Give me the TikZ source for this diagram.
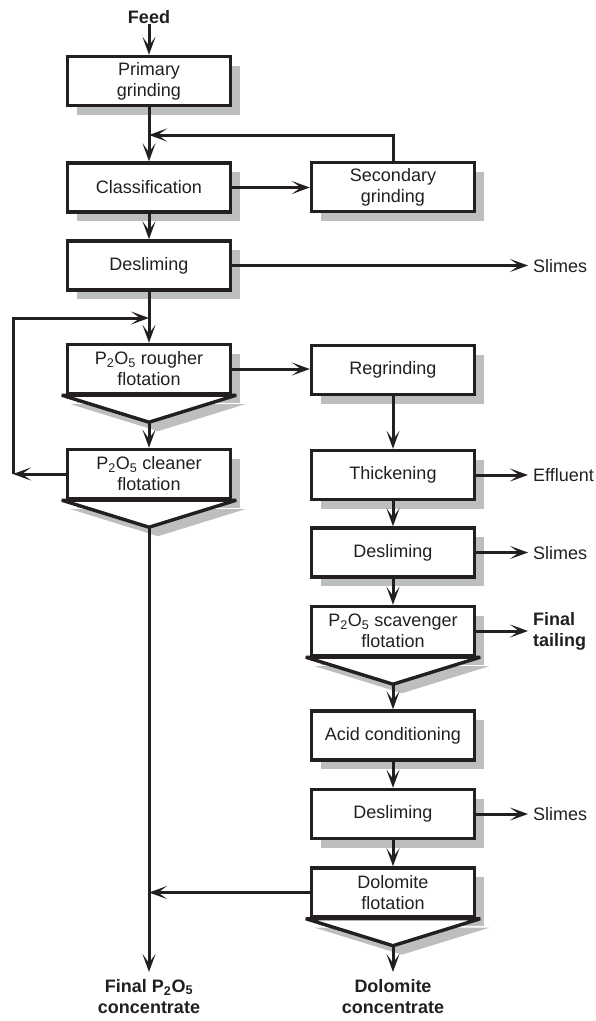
\documentclass[tikz,border=0pt]{standalone}
\usepackage{fontspec}
\setmainfont{Liberation Sans}
\usetikzlibrary{arrows.meta,calc,shadows}
\definecolor{ink}{HTML}{231F20}
\definecolor{shade}{HTML}{BCBEC0}
\begin{document}
\begin{tikzpicture}[x=1pt,y=-1pt,
  font=\fontsize{18}{21}\selectfont,
  every node/.style={inner sep=0pt, text=ink},
  unit/.style={draw=ink, fill=white, line width=3.4pt, minimum width=163pt,
    minimum height=49pt, align=center,
    drop shadow={shadow xshift=9pt, shadow yshift=-9pt, fill=shade, opacity=1}},
  flow/.style={draw=ink, line width=3pt,
    -{Stealth[length=18pt,width=13pt,inset=9pt]}},
  label/.style={anchor=west, align=left},
  outlet/.style={align=center, font=\fontsize{18}{21}\selectfont\bfseries},
  cone/.style={draw=ink, fill=white, line width=3.4pt, line join=bevel},
  coneshade/.style={fill=shade},
]
\useasboundingbox (0,0) rectangle (596,1021);

% process units
\node[outlet] (feed) at (149,17) {Feed};
\node[unit] (prim)  at (149,81)    {Primary\\grinding};
\node[unit] (class) at (149,187.5) {Classification};
\node[unit] (sec)   at (393,187)   {Secondary\\grinding};
\node[unit] (desl)  at (149,265.5) {Desliming};
\node[unit] (rough) at (149,369)   {P\textsubscript{2}O\textsubscript{5} rougher\\flotation};
\node[unit] (clean) at (149,474)   {P\textsubscript{2}O\textsubscript{5} cleaner\\flotation};
\node[unit] (regr)  at (393,370)   {Regrinding};
\node[unit] (thick) at (393,475)   {Thickening};
\node[unit] (deslb) at (393,552.5) {Desliming};
\node[unit] (scav)  at (393,631)   {P\textsubscript{2}O\textsubscript{5} scavenger\\flotation};
\node[unit] (acid)  at (393,735.5) {Acid conditioning};
\node[unit] (deslc) at (393,814)   {Desliming};
\node[unit] (dolo)  at (393,892.5) {Dolomite\\flotation};

% cone bottoms of the flotation cells
\foreach \c in {rough,clean,scav,dolo} {
  \fill[coneshade] ($(\c.south west)+(5,9)$) -- ($(\c.south east)+(13,9)$)
    -- ($(\c.south)+(9,36)$) -- cycle;
  \filldraw[cone] ($(\c.south west)+(-4,0)$) -- ($(\c.south east)+(4,0)$)
    -- ($(\c.south)+(0,27)$) coordinate (\c-tip) -- cycle;
}

% outlet labels
\node[label] (slimesa) at (533,266) {Slimes};
\node[label] (effl)    at (533,475) {Effluent};
\node[label] (slimesb) at (533,553) {Slimes};
\node[label, font=\fontsize{18}{21}\selectfont\bfseries] (tail) at (533,631) {Final\\tailing};
\node[label] (slimesc) at (533,814) {Slimes};
\node[outlet, anchor=north] (fin)  at (149,979) {Final P\textsubscript{2}O\textsubscript{5}\\concentrate};
\node[outlet, anchor=north] (dcon) at (393,979) {Dolomite\\concentrate};

% junctions
\coordinate (j1) at (149,135);
\coordinate (j2) at (149,318);
\coordinate (loopa) at (13,474);
\coordinate (loopb) at (13,318);

% main line
\draw[flow] (feed.south) -- (prim.north);
\draw[flow] (prim.south) -- (class.north);
\draw[flow] (class.east) -- (class.east -| sec.west);
\draw[flow] (sec.north) |- (j1);
\draw[flow] (class.south) -- (desl.north);
\draw[flow] (desl.east) -- ([xshift=-5pt]desl.east -| slimesa.west);
\draw[flow] (desl.south) -- (rough.north);
\draw[flow] (rough-tip) -- (clean.north);
\draw[flow] (clean.west) -- (loopa);
\draw[flow] (loopa) -- (loopb) -- (j2);
\draw[flow, shorten >=7pt] (clean-tip) -- (fin.north);

% rougher tailing circuit
\draw[flow] (rough.east) -- (rough.east -| regr.west);
\draw[flow] (regr.south) -- (thick.north);
\draw[flow] (thick.east) -- ([xshift=-5pt]thick.east -| effl.west);
\draw[flow] (thick.south) -- (deslb.north);
\draw[flow] (deslb.east) -- ([xshift=-5pt]deslb.east -| slimesb.west);
\draw[flow] (deslb.south) -- (scav.north);
\draw[flow] (scav.east) -- ([xshift=-5pt]scav.east -| tail.west);
\draw[flow] (scav-tip) -- (acid.north);
\draw[flow] (acid.south) -- (deslc.north);
\draw[flow] (deslc.east) -- ([xshift=-5pt]deslc.east -| slimesc.west);
\draw[flow] (deslc.south) -- (dolo.north);
\draw[flow] (dolo.west) -- (dolo.west -| clean-tip);
\draw[flow, shorten >=7pt] (dolo-tip) -- (dcon.north);
\end{tikzpicture}
\end{document}
